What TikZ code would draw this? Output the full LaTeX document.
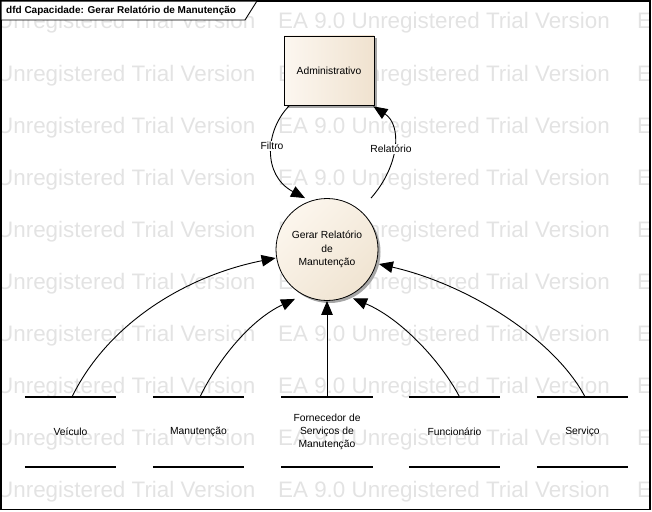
\documentclass[tikz,border=0pt]{standalone}
\usepackage{fontspec}
\setmainfont{Liberation Sans}
\usetikzlibrary{arrows.meta}
\definecolor{wm}{gray}{0.89}
\definecolor{boxl}{RGB}{252,247,240}
\definecolor{boxd}{RGB}{240,226,207}
\definecolor{procl}{RGB}{252,246,237}
\definecolor{procd}{RGB}{240,228,210}
\begin{document}
\begin{tikzpicture}[x=1pt,y=-1pt,
  every node/.style={font=\fontsize{10.3}{13.3}\selectfont},
  wmtext/.style={anchor=base west, inner sep=0, text=wm, font=\fontsize{22.4}{26}\selectfont},
  flow/.style={-{Triangle[length=14pt,width=11.5pt]}, line width=0.9pt},
  storeline/.style={line width=2pt},
  store/.style={minimum width=91pt, minimum height=70pt, inner sep=0, align=center},
  lbl/.style={fill=white, inner sep=1pt},
  shadowfill/.style={fill=black!35}
]
\useasboundingbox (0,0) rectangle (652,511);
% watermark
\begin{scope}
\clip (1,1) rectangle (650,509);
\foreach \k in {0,...,9} {
  \pgfmathsetmacro\yy{29+52*\k}
  \node[wmtext] (wa\k) at (-3,\yy) {Unregistered Trial Version};
  \node[wmtext] (wb\k) at (278,\yy) {EA 9.0 Unregistered Trial Version};
  \node[wmtext] (wc\k) at (637,\yy) {EA};
}
\end{scope}
% frame and tab
\draw[line width=1.2pt] (1,1) rectangle (650,509.5);
\fill[white] (1.6,1.6) -- (257,1.6) -- (245,20) -- (1.6,20) -- cycle;
\draw[line width=0.9pt] (1,20) -- (245,20) -- (257,1);
\node[anchor=west, inner sep=0, font=\bfseries\fontsize{10}{12}\selectfont] (title) at (6,10.5) {dfd Capacidade: Gerar Relatório de Manutenção};
% external entity
\fill[shadowfill] (286.5,38.5) rectangle (376.5,107.5);
\node[draw, line width=0.8pt, minimum width=90pt, minimum height=69pt, inner sep=0, left color=boxl, right color=boxd] (admin) at (329,70.5) {Administrativo};
% process
\fill[shadowfill] (329.5,252) circle[radius=51pt];
\node[circle, draw, line width=0.8pt, minimum size=102pt, inner sep=0, align=center, top color=procl, bottom color=procd, shading angle=45] (proc) at (327,249.5) {Gerar Relatório\\de\\Manutenção};
% data stores
\node[store] (veic) at (70.5,432) {Veículo};
\node[store] (manu) at (198.5,432) {Manutenção};
\node[store] (forn) at (327,432) {Fornecedor de\\Serviços de\\Manutenção};
\node[store] (func) at (454.5,432) {Funcionário};
\node[store] (serv) at (582.5,432) {Serviço};
\foreach \s in {veic,manu,forn,func,serv} {
  \draw[storeline] (\s.north west) -- (\s.north east);
  \draw[storeline] (\s.south west) -- (\s.south east);
}
% flows
\draw[flow] ([xshift=1.5pt]veic.north) .. controls (110,320) and (190,275) .. ([yshift=-8.5pt]proc.west);
\draw[flow] ([xshift=1.5pt]manu.north) .. controls (218,360) and (250,320) .. ([xshift=-32pt,yshift=2pt]proc.south);
\draw[flow] (forn.north) -- (proc.south);
\draw[flow] ([xshift=5pt]func.north) .. controls (440,360) and (400,318) .. ([xshift=26pt,yshift=2.5pt]proc.south);
\draw[flow] ([xshift=2.5pt]serv.north) .. controls (555,340) and (470,285) .. ([yshift=-14.5pt,xshift=0.5pt]proc.east);
\draw[flow] ([xshift=6pt]admin.south west) .. controls (265,130) and (262,175) .. ([xshift=-22pt]proc.north);
\draw[flow] ([xshift=44pt]proc.north) .. controls (400,165) and (402,125) .. ([xshift=-1pt,yshift=-1pt]admin.south east);
\node[lbl] (lfiltro) at (272,146) {Filtro};
\node[lbl] (lrel) at (391,149) {Relatório};
\end{tikzpicture}
\end{document}
